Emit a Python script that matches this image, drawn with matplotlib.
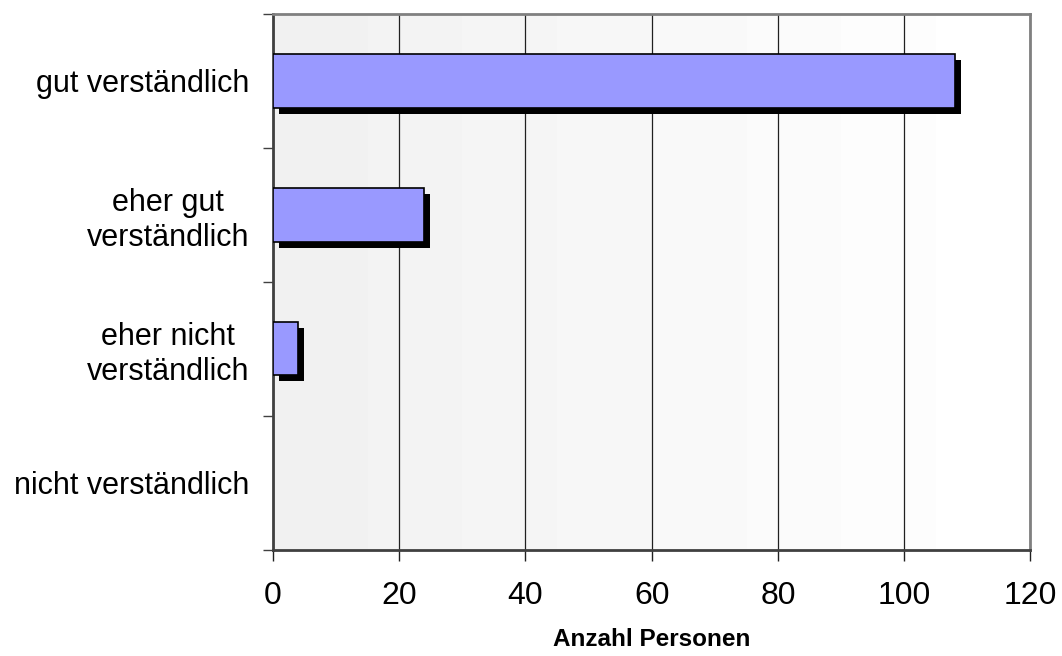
import numpy as np
import matplotlib.pyplot as plt
import matplotlib.patheffects as pe

categories = ["gut verständlich", "eher gut\nverständlich",
              "eher nicht\nverständlich", "nicht verständlich"]
counts = [108, 24, 4, 0]
xticks = [0, 20, 40, 60, 80, 100, 120]

plt.rcParams['font.family'] = ['Liberation Sans', 'DejaVu Sans']

fig = plt.figure(figsize=(10.62, 6.56), dpi=100)
ax = fig.add_axes([0.257, 0.1623, 0.7133, 0.8164])

# banded grey-to-white background
bands = np.linspace(0.945, 0.997, 8).reshape(1, -1)
ax.imshow(bands, cmap='gray', vmin=0, vmax=1, aspect='auto',
          extent=(0, 1, 0, 1), transform=ax.transAxes, zorder=0,
          interpolation='nearest')

pos = np.arange(len(categories))
bars = ax.barh(pos, counts, height=0.4, color='#9999ff', edgecolor='black',
               linewidth=1.2, zorder=3)
for b in bars:
    if b.get_width() > 0:
        b.set_path_effects([pe.SimplePatchShadow(offset=(4.3, -4.3),
                                                 shadow_rgbFace='black', alpha=1.0),
                            pe.Normal()])
    else:
        b.set_visible(False)

ax.set_xlim(0, 120)
ax.set_ylim(len(categories) - 0.5, -0.5)
ax.set_xticks(xticks)
ax.xaxis.grid(True, color='#202020', linewidth=0.9, zorder=1)
ax.set_axisbelow(True)

# ticks at category boundaries, labels at centres
ax.set_yticks(np.arange(-0.5, len(categories), 1))
ax.set_yticklabels([])
ax.set_yticks(pos, minor=True)
ax.set_yticklabels(categories, minor=True, fontsize=22, multialignment='center')
ax.tick_params(axis='y', which='minor', length=0, pad=17)
ax.tick_params(axis='y', which='major', length=7, width=1, color='#404040')
ax.tick_params(axis='x', length=8, width=1, color='#202020', pad=15, labelsize=23)

for s in ['left', 'bottom']:
    ax.spines[s].set_color('#404040')
    ax.spines[s].set_linewidth(2)
for s in ['top', 'right']:
    ax.spines[s].set_color('#808080')
    ax.spines[s].set_linewidth(2)

ax.set_xlabel("Anzahl Personen", fontsize=17.5, fontweight='bold', labelpad=12)

fig.savefig("out.png", dpi=100)
